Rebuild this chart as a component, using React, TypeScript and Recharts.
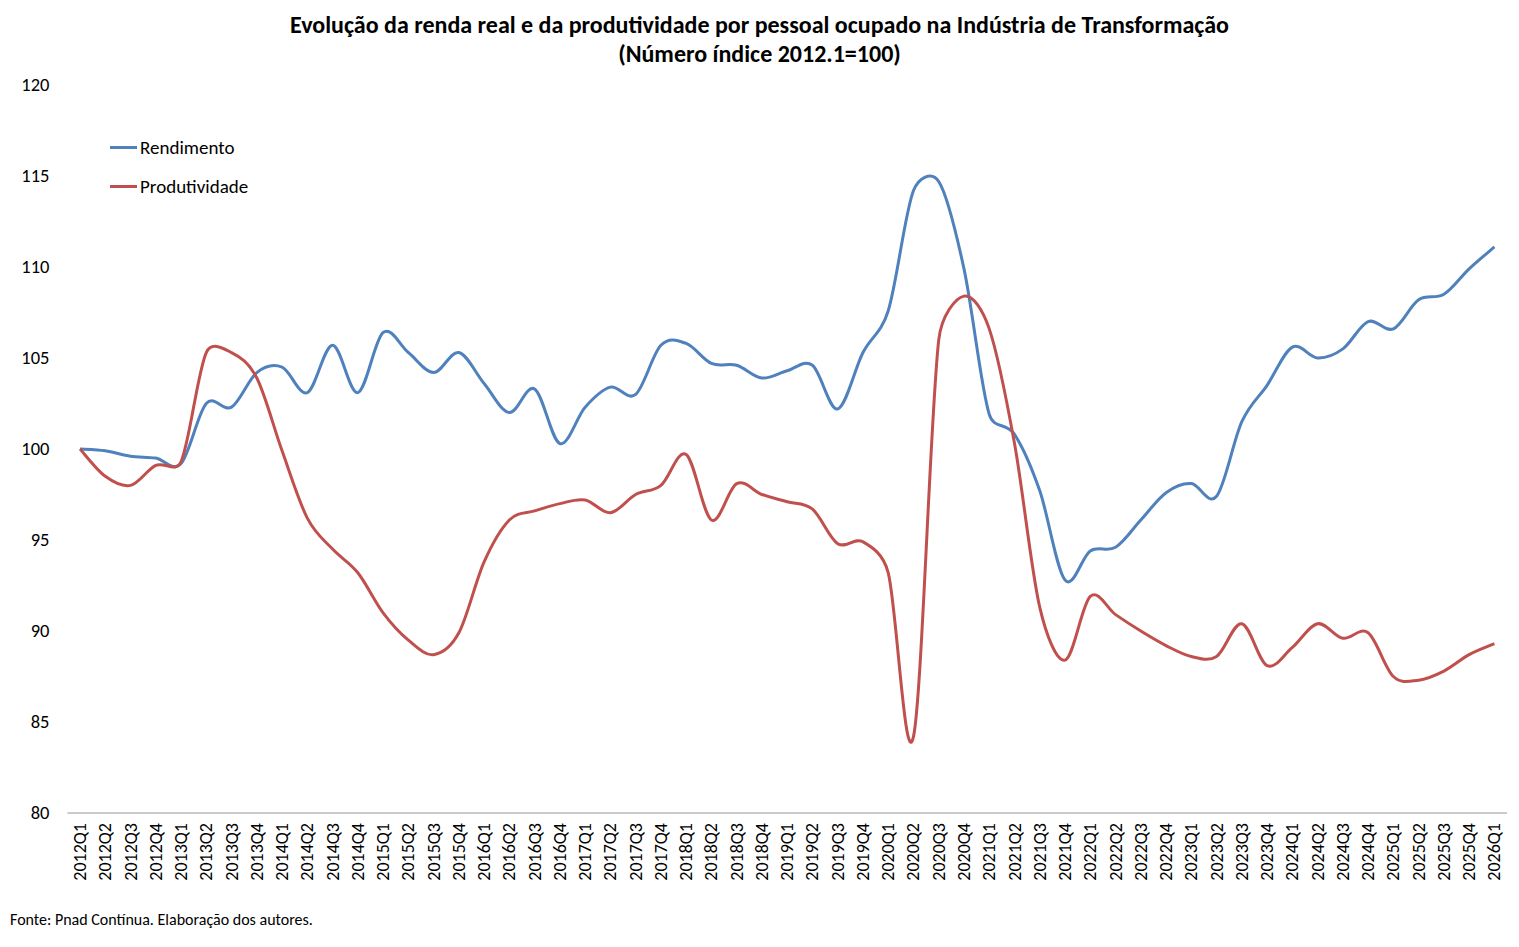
import React from 'react';
import { LineChart, Line, XAxis, YAxis, Legend } from 'recharts';

const quarters = [
  '2012Q1', '2012Q2', '2012Q3', '2012Q4',
  '2013Q1', '2013Q2', '2013Q3', '2013Q4',
  '2014Q1', '2014Q2', '2014Q3', '2014Q4',
  '2015Q1', '2015Q2', '2015Q3', '2015Q4',
  '2016Q1', '2016Q2', '2016Q3', '2016Q4',
  '2017Q1', '2017Q2', '2017Q3', '2017Q4',
  '2018Q1', '2018Q2', '2018Q3', '2018Q4',
  '2019Q1', '2019Q2', '2019Q3', '2019Q4',
  '2020Q1', '2020Q2', '2020Q3', '2020Q4',
  '2021Q1', '2021Q2', '2021Q3', '2021Q4',
  '2022Q1', '2022Q2', '2022Q3', '2022Q4',
  '2023Q1', '2023Q2', '2023Q3', '2023Q4',
  '2024Q1', '2024Q2', '2024Q3', '2024Q4',
  '2025Q1', '2025Q2', '2025Q3', '2025Q4',
  '2026Q1',
];

const rendimento = [
  100, 99.9, 99.6, 99.5, 99.2, 102.5, 102.3, 104.2, 104.5, 103.1,
  105.7, 103.1, 106.4, 105.3, 104.2, 105.3, 103.6, 102.0, 103.3, 100.3,
  102.3, 103.4, 103.0, 105.7, 105.8, 104.7, 104.6, 103.9, 104.3, 104.6,
  102.2, 105.3, 107.6, 114.2, 114.7, 109.9, 101.9, 100.8, 97.7, 92.8,
  94.4, 94.6, 96.1, 97.6, 98.1, 97.4, 101.5, 103.5, 105.6, 105.0,
  105.5, 107.0, 106.6, 108.2, 108.5, 109.9, 111.1,
];

const produtividade = [
  100, 98.5, 98.0, 99.1, 99.3, 105.3, 105.3, 103.9, 99.9, 96.2,
  94.5, 93.2, 91.0, 89.5, 88.7, 89.9, 93.8, 96.1, 96.6, 97.0,
  97.2, 96.5, 97.5, 98.0, 99.7, 96.1, 98.1, 97.5, 97.1, 96.7,
  94.8, 94.9, 93.2, 84.2, 106.0, 108.4, 106.6, 100.3, 91.3, 88.4,
  91.9, 90.9, 90.0, 89.2, 88.6, 88.6, 90.4, 88.1, 89.1, 90.4,
  89.6, 89.9, 87.5, 87.3, 87.8, 88.7, 89.3,
];

const yTicks = [80, 85, 90, 95, 100, 105, 110, 115, 120];

const BLUE = '#4F81BD';
const RED = '#C0504D';
const FONT = 'Carlito, Calibri, Lato, sans-serif';

const data = quarters.map((q, i) => ({
  q,
  rendimento: rendimento[i],
  produtividade: produtividade[i],
}));

// Excel-like smoothing: Catmull-Rom arms, capped at half the segment length
const capArm = (dx: number, dy: number, seg: number) => {
  const len = Math.hypot(dx, dy);
  const max = seg * 0.5;
  if (len > max && len > 0) {
    const k = max / len;
    return [dx * k, dy * k];
  }
  return [dx, dy];
};

const excelCurve = (context: any) => {
  let pts: number[][] = [];
  return {
    areaStart() {},
    areaEnd() {},
    lineStart() {
      pts = [];
    },
    lineEnd() {
      if (!pts.length) return;
      context.moveTo(pts[0][0], pts[0][1]);
      for (let i = 0; i < pts.length - 1; i++) {
        const p0 = pts[Math.max(i - 1, 0)];
        const p1 = pts[i];
        const p2 = pts[i + 1];
        const p3 = pts[Math.min(i + 2, pts.length - 1)];
        const seg = Math.hypot(p2[0] - p1[0], p2[1] - p1[1]);
        const a1 = capArm((p2[0] - p0[0]) / 6, (p2[1] - p0[1]) / 6, seg);
        const a2 = capArm((p3[0] - p1[0]) / 6, (p3[1] - p1[1]) / 6, seg);
        context.bezierCurveTo(
          p1[0] + a1[0],
          p1[1] + a1[1],
          p2[0] - a2[0],
          p2[1] - a2[1],
          p2[0],
          p2[1],
        );
      }
    },
    point(x: number, y: number) {
      pts.push([+x, +y]);
    },
  };
};

const XTick = ({ x, y, payload }: any) => (
  <text
    transform={`translate(${x},${y}) rotate(-90)`}
    textAnchor="end"
    dominantBaseline="central"
    fontSize={18}
    fontFamily={FONT}
    fill="#000"
  >
    {payload.value}
  </text>
);

const LegendBox = () => (
  <div style={{ fontFamily: FONT, fontSize: 19, color: '#000' }}>
    {[
      { name: 'Rendimento', color: BLUE },
      { name: 'Produtividade', color: RED },
    ].map((item) => (
      <div key={item.name} style={{ display: 'flex', alignItems: 'center', height: 39 }}>
        <span style={{ display: 'inline-block', width: 27, height: 3, background: item.color, marginRight: 3 }} />
        <span>{item.name}</span>
      </div>
    ))}
  </div>
);

export default function App() {
  return (
    <div style={{ position: 'relative', width: 1503, height: 931, fontFamily: FONT }}>
      <div
        style={{
          position: 'absolute',
          top: 2,
          left: 0,
          width: 1503,
          textAlign: 'center',
          fontWeight: 'bold',
          fontSize: 24,
          lineHeight: '29px',
          color: '#000',
        }}
      >
        <div>Evolução da renda real e da produtividade por pessoal ocupado na Indústria de Transformação</div>
        <div>(Número índice 2012.1=100)</div>
      </div>

      <LineChart
        width={1503}
        height={931}
        data={data}
        margin={{ top: 77, right: 4, bottom: 46, left: 0 }}
      >
        <XAxis
          dataKey="q"
          interval={0}
          height={80}
          padding={{ left: 12.6, right: 12.6 }}
          axisLine={{ stroke: '#969696', strokeWidth: 1 }}
          tickLine={false}
          tickSize={0}
          tickMargin={10}
          tick={<XTick />}
        />
        <YAxis
          domain={[80, 120]}
          ticks={yTicks}
          interval={0}
          width={59.4}
          axisLine={false}
          tickLine={false}
          tickSize={0}
          tickMargin={18}
          tick={{ fontSize: 18.5, fontFamily: FONT, fill: '#000', dy: -1 }}
        />
        <Legend
          layout="vertical"
          align="center"
          verticalAlign="middle"
          content={<LegendBox />}
          wrapperStyle={{ top: 119.5, left: 102, width: 220 }}
        />
        <Line
          dataKey="rendimento"
          name="Rendimento"
          type={excelCurve as any}
          stroke={BLUE}
          strokeWidth={3}
          dot={false}
          activeDot={false}
          isAnimationActive={false}
        />
        <Line
          dataKey="produtividade"
          name="Produtividade"
          type={excelCurve as any}
          stroke={RED}
          strokeWidth={3}
          dot={false}
          activeDot={false}
          isAnimationActive={false}
        />
      </LineChart>

      <div
        style={{
          position: 'absolute',
          left: 2,
          top: 903,
          fontSize: 16,
          lineHeight: '18px',
          color: '#000',
        }}
      >
        Fonte: Pnad Contínua. Elaboração dos autores.
      </div>
    </div>
  );
}
